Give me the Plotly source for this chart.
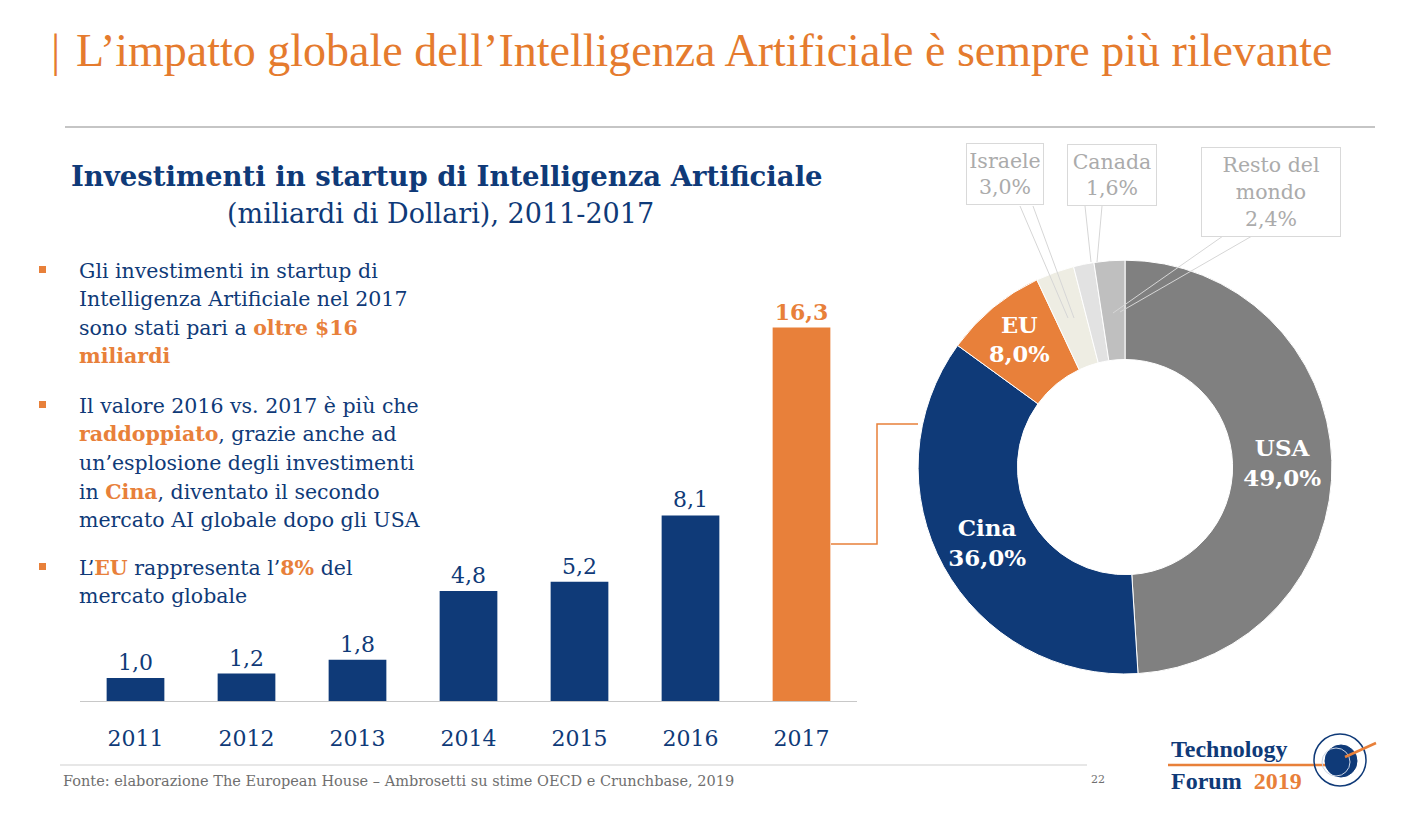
import plotly.graph_objects as go

# ---------------- data ----------------
years = ["2011", "2012", "2013", "2014", "2015", "2016", "2017"]
investments = [1.0, 1.2, 1.8, 4.8, 5.2, 8.1, 16.3]

countries = ["USA", "Cina", "EU", "Israele", "Canada", "Resto del mondo"]
shares = [49.0, 36.0, 8.0, 3.0, 1.6, 2.4]

NAVY = "#0f3a78"
ORANGE = "#e8803a"
TITLE_OR = "#e57b2e"
SERIF = "DejaVu Serif"
NARROW = "Liberation Serif"

bar_colors = [NAVY] * (len(years) - 1) + [ORANGE]
bar_templates = ["%{y:.1f}"] * (len(years) - 1) + ["<b>%{y:.1f}</b>"]
pie_colors = ["#808080", NAVY, ORANGE, "#eeede3", "#e2e2e2", "#bfbfbf"]
pie_templates = ["<b>%{label}<br>%{percent:.1%}</b>"] * 3 + [""] * 3

fig = go.Figure()

fig.add_trace(go.Bar(
    x=years, y=investments,
    marker=dict(color=bar_colors, line=dict(width=0)),
    texttemplate=bar_templates,
    textposition="outside",
    textfont=dict(family=SERIF, size=22, color=bar_colors),
    cliponaxis=False,
    hoverinfo="skip",
))

fig.add_trace(go.Pie(
    labels=countries, values=shares,
    sort=False, direction="clockwise", rotation=0,
    hole=0.52,
    marker=dict(colors=pie_colors, line=dict(color="white", width=1)),
    texttemplate=pie_templates,
    textposition="inside",
    insidetextorientation="horizontal",
    textfont=dict(family=SERIF, size=23, color="white"),
    domain=dict(x=[0.6483, 0.9407], y=[0.171, 0.680]),
    showlegend=False,
    hoverinfo="skip",
))

W, H = 1416, 813


def px(x):
    return x / W


def py(y):
    return 1 - y / H


annotations = []
shapes = []

# Title
annotations.append(dict(x=px(49), y=py(50), xref="paper", yref="paper", xanchor="left", yanchor="middle",
                        text="|", showarrow=False, font=dict(family=NARROW, size=46, color=TITLE_OR)))
annotations.append(dict(x=px(74), y=py(50), xref="paper", yref="paper", xanchor="left", yanchor="middle",
                        text="L\u2019impatto globale dell\u2019Intelligenza Artificiale è sempre più rilevante",
                        showarrow=False, font=dict(family=NARROW, size=46, color=TITLE_OR)))
shapes.append(dict(type="line", xref="paper", yref="paper", x0=px(65), x1=px(1375), y0=py(127), y1=py(127),
                   line=dict(color="#8c8c8c", width=1.2)))

# Subtitle
annotations.append(dict(x=px(447), y=py(176), xref="paper", yref="paper", xanchor="center", yanchor="middle",
                        text="<b>Investimenti in startup di Intelligenza Artificiale</b>",
                        showarrow=False, font=dict(family=SERIF, size=27.5, color=NAVY)))
annotations.append(dict(x=px(440), y=py(213), xref="paper", yref="paper", xanchor="center", yanchor="middle",
                        text="(miliardi di Dollari), 2011-2017",
                        showarrow=False, font=dict(family=SERIF, size=27, color=NAVY)))

# Bullets
def hl(t):
    return f"<b><span style='color:{ORANGE}'>{t}</span></b>"


bullet_lines = [
    (271, "Gli investimenti in startup di"),
    (299, "Intelligenza Artificiale nel 2017"),
    (328, "sono stati pari a " + hl("oltre $16")),
    (356, hl("miliardi")),
    (406, "Il valore 2016 vs. 2017 è più che"),
    (434, hl("raddoppiato") + ", grazie anche ad"),
    (463, "un\u2019esplosione degli investimenti"),
    (492, "in " + hl("Cina") + ", diventato il secondo"),
    (520, "mercato AI globale dopo gli USA"),
    (568, "L\u2019" + hl("EU") + " rappresenta l\u2019" + hl("8%") + " del"),
    (596, "mercato globale"),
]
for yy, t in bullet_lines:
    annotations.append(dict(x=px(77), y=py(yy), xref="paper", yref="paper", xanchor="left", yanchor="middle",
                            text=t, showarrow=False, font=dict(family=SERIF, size=20.5, color=NAVY)))
for yy in (270, 405, 567):
    shapes.append(dict(type="rect", xref="paper", yref="paper", x0=px(39), x1=px(46), y0=py(yy - 4), y1=py(yy + 3),
                       fillcolor=ORANGE, line=dict(width=0)))

# Connector from 2017 bar to pie
shapes.append(dict(type="path", xref="paper", yref="paper",
                   path=f"M {px(831)},{py(544)} L {px(877)},{py(544)} L {px(877)},{py(424)} L {px(918)},{py(424)}",
                   line=dict(color=ORANGE, width=1.5)))

# Outside pie labels
GREY_TXT = "#ababab"
boxes = [
    (1005, 174, "Israele<br>3,0%", 72, 56),
    (1112, 175, "Canada<br>1,6%", 84, 56),
    (1271, 192, "Resto del<br>mondo<br>2,4%", 134, 84),
]
for bx, by, t, w, h in boxes:
    annotations.append(dict(x=px(bx), y=py(by), xref="paper", yref="paper", xanchor="center", yanchor="middle",
                            text=t, showarrow=False, width=w, height=h, bordercolor="#d9d9d9", borderwidth=1,
                            borderpad=2, bgcolor="white",
                            font=dict(family=SERIF, size=20.5, color=GREY_TXT)))
leaders = [((1020, 206), (1068, 318)), ((1033, 206), (1074, 318)),
           ((1085, 206), (1091, 262)), ((1102, 206), (1097, 262)),
           ((1223, 236), (1113, 313)), ((1252, 236), (1120, 312))]
for (x0, y0), (x1, y1) in leaders:
    shapes.append(dict(type="line", xref="paper", yref="paper", x0=px(x0), y0=py(y0), x1=px(x1), y1=py(y1),
                       line=dict(color="#d6d6d6", width=1)))

# Footer
shapes.append(dict(type="line", xref="paper", yref="paper", x0=px(60), x1=px(1087), y0=py(765), y1=py(765),
                   line=dict(color="#cfcfcf", width=1)))
annotations.append(dict(x=px(61), y=py(781), xref="paper", yref="paper", xanchor="left", yanchor="middle",
                        text="Fonte: elaborazione The European House \u2013 Ambrosetti su stime OECD e Crunchbase, 2019",
                        showarrow=False, font=dict(family=SERIF, size=14.5, color="#6f6f6f")))
annotations.append(dict(x=px(1098), y=py(779), xref="paper", yref="paper", xanchor="center", yanchor="middle",
                        text="22", showarrow=False, font=dict(family=SERIF, size=11, color="#6f6f6f")))

# Logo
annotations.append(dict(x=px(1169), y=py(749), xref="paper", yref="paper", xanchor="left", yanchor="middle",
                        text="<b>Technology</b>", showarrow=False, font=dict(family=NARROW, size=24, color=NAVY)))
annotations.append(dict(x=px(1169), y=py(781), xref="paper", yref="paper", xanchor="left", yanchor="middle",
                        text=f"<b>Forum  <span style='color:{ORANGE}'>2019</span></b>", showarrow=False,
                        font=dict(family=NARROW, size=24, color=NAVY)))
shapes.append(dict(type="line", xref="paper", yref="paper", x0=px(1168), x1=px(1330), y0=py(765), y1=py(765),
                   line=dict(color=ORANGE, width=2.5)))
shapes.append(dict(type="circle", xref="paper", yref="paper", x0=px(1314), x1=px(1366), y0=py(734), y1=py(786),
                   line=dict(color=NAVY, width=1.5)))
shapes.append(dict(type="circle", xref="paper", yref="paper", x0=px(1325), x1=px(1357), y0=py(745), y1=py(777),
                   fillcolor=NAVY, line=dict(color=NAVY, width=1)))
shapes.append(dict(type="circle", xref="paper", yref="paper", x0=px(1322), x1=px(1350), y0=py(748), y1=py(776),
                   line=dict(color="#c9d3e3", width=1)))
shapes.append(dict(type="line", xref="paper", yref="paper", x0=px(1345), x1=px(1376), y0=py(757), y1=py(743),
                   line=dict(color=ORANGE, width=2.5)))

fig.update_layout(
    width=W, height=H,
    margin=dict(l=0, r=0, t=0, b=0),
    paper_bgcolor="white", plot_bgcolor="white",
    separators=",.",
    showlegend=False,
    bargap=0.48,
    xaxis=dict(domain=[px(80), px(857)], showgrid=False, showline=True, linecolor="#c8c8c8", linewidth=1.2,
               ticks="", tickfont=dict(family=SERIF, size=22, color=NAVY), ticklabelstandoff=17,
               fixedrange=True),
    yaxis=dict(domain=[py(701), py(300)], range=[0, 17.5], visible=False, showgrid=False, zeroline=False,
               fixedrange=True),
    annotations=annotations,
    shapes=shapes,
    uniformtext=dict(mode=False),
)

fig.write_html("out.html")
